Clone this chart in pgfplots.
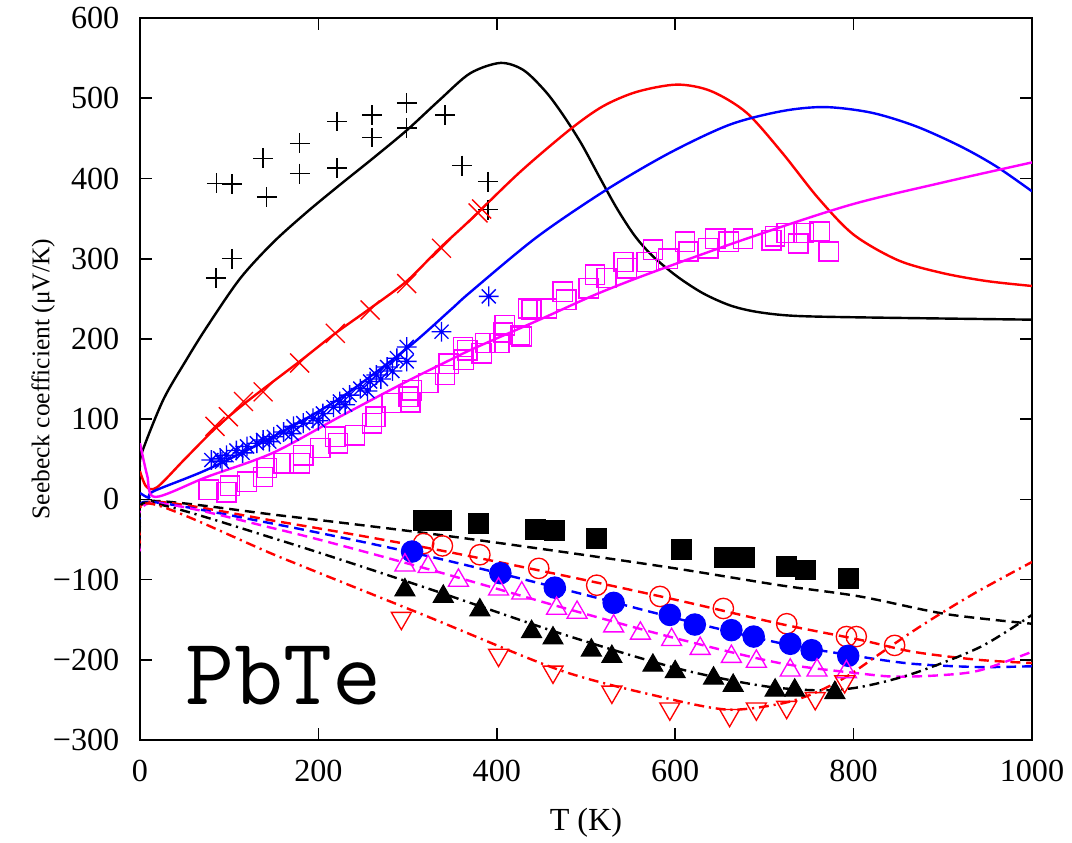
\documentclass[border=0pt]{standalone}
\usepackage{fontspec}
\setmainfont{Liberation Serif}
\usepackage{pgfplots}
\pgfplotsset{compat=1.18}
\definecolor{mag}{RGB}{255,0,255}
\definecolor{rd}{RGB}{255,0,0}
\definecolor{bl}{RGB}{0,0,255}
\pgfdeclareplotmark{pcross}{%
  \pgfpathmoveto{\pgfqpoint{-\pgfplotmarksize}{0pt}}\pgfpathlineto{\pgfqpoint{\pgfplotmarksize}{0pt}}%
  \pgfpathmoveto{\pgfqpoint{0pt}{-\pgfplotmarksize}}\pgfpathlineto{\pgfqpoint{0pt}{\pgfplotmarksize}}%
  \pgfpathmoveto{\pgfqpoint{-.7071\pgfplotmarksize}{-.7071\pgfplotmarksize}}\pgfpathlineto{\pgfqpoint{.7071\pgfplotmarksize}{.7071\pgfplotmarksize}}%
  \pgfpathmoveto{\pgfqpoint{-.7071\pgfplotmarksize}{.7071\pgfplotmarksize}}\pgfpathlineto{\pgfqpoint{.7071\pgfplotmarksize}{-.7071\pgfplotmarksize}}%
  \pgfusepathqstroke}
\begin{document}
\begin{tikzpicture}
\useasboundingbox (-52.24pt,-38.06pt) rectangle (347.73pt,276.12pt);
\begin{axis}[
  scale only axis, width=332.8pt, height=269.4pt,
  xmin=0, xmax=1000, ymin=-300, ymax=600,
  xtick={0,200,400,600,800,1000},
  xticklabels={0,200,400,600,800,1000},
  ytick={-300,-200,-100,0,100,200,300,400,500,600},
  yticklabels={−300,−200,−100,0,100,200,300,400,500,600},
  major tick length=4.4pt,
  tick style={black, line width=0.6pt},
  axis line style={line width=0.8pt},
  tick label style={font=\fontsize{12}{14}\selectfont},
  yticklabel style={xshift=-4.2pt},
  xticklabel style={yshift=-4pt},
  xlabel={T (K)}, ylabel={Seebeck coefficient (μV/K)},
  every axis x label/.style={at={(axis description cs:0.5,-0.1247)},anchor=base,font=\fontsize{12}{14}\selectfont},
  every axis y label/.style={at={(axis description cs:-0.1087,0.5)},anchor=center,rotate=90,font=\fontsize{9.5}{11}\selectfont},
  clip=true,
]
% ---- p-type theory (solid)
\addplot[black, line width=0.9pt, smooth] coordinates {(0,40)(2,58)(26,124)(52,174)(75,215)(112,275)(149,320)(187,358)(224,392)(261,425)(299,460)(336,498)(370,531)(404,544)(430,535)(455,508)(475,478)(495,443)(515,402)(535,362)(555,328)(575,303)(602,278)(631,257)(661,242)(690,234)(730,229)(800,227)(1000,224)};
\addplot[rd, line width=0.9pt, smooth] coordinates {(0,35)(7,16)(19,15)(50,50)(84,88)(120,122)(179,172)(219,207)(258,238)(299,272)(336,313)(370,348)(426,408)(482,461)(519,490)(557,508)(602,517)(640,509)(680,482)(720,432)(760,376)(800,330)(850,298)(900,282)(950,272)(1000,266)};
\addplot[bl, line width=0.9pt, smooth] coordinates {(0,8)(10,2)(15,10)(75,37)(149,78)(224,126)(299,188)(348,236)(370,258)(445,327)(523,386)(594,432)(661,467)(720,484)(768,489)(820,482)(870,465)(920,440)(960,415)(1000,384)};
\addplot[mag, line width=0.9pt, smooth] coordinates {(0,70)(8,30)(17,3)(75,28)(149,58)(224,103)(299,147)(348,174)(374,188)(448,224)(510,255)(572,282)(680,325)(796,367)(900,395)(1000,420)};
% ---- n-type theory
\addplot[black, line width=0.9pt, smooth, dash pattern=on 3.7pt off 2.2pt] coordinates {(0,-30)(10,-2)(157,-20)(320,-42)(471,-65)(600,-86)(717,-107)(807,-121)(904,-143)(1000,-155)};
\addplot[rd, line width=0.9pt, smooth, dash pattern=on 3.7pt off 2.2pt] coordinates {(0,-45)(10,-3)(157,-28)(320,-60)(471,-94)(600,-125)(717,-155)(807,-175)(867,-190)(940,-200)(1000,-204)};
\addplot[bl, line width=0.9pt, smooth, dash pattern=on 3.7pt off 2.2pt] coordinates {(0,-25)(10,-3)(157,-32)(320,-70)(471,-111)(600,-148)(717,-179)(807,-196)(867,-205)(940,-209)(1000,-208)};
\addplot[mag, line width=0.9pt, smooth, dash pattern=on 3.7pt off 2.2pt] coordinates {(0,-65)(10,-5)(157,-38)(320,-86)(471,-134)(600,-173)(717,-204)(807,-217)(848,-221)(900,-219)(942,-213)(1000,-190)};
\addplot[black, line width=0.9pt, smooth, dash pattern=on 3.7pt off 1.8pt on 0.8pt off 1.8pt] coordinates {(0,-35)(10,-4)(157,-51)(320,-110)(471,-167)(600,-210)(695,-232)(760,-238)(807,-234)(867,-217)(942,-184)(1000,-144)};
\addplot[rd, line width=0.9pt, smooth, dash pattern=on 3.7pt off 1.8pt on 0.8pt off 1.8pt] coordinates {(0,-55)(10,-5)(157,-72)(320,-145)(471,-213)(583,-246)(658,-262)(717,-255)(755,-242)(792,-221)(830,-192)(867,-164)(904,-138)(942,-113)(1000,-78)};
% ---- p-type experiment
\addplot[only marks, mark=+, mark size=3.7pt, black, line width=0.5pt] coordinates {(86,394)(103,393)(138,425)(142,377)(179,444)(179,406)(221,471)(221,413)(260,479)(260,451)(299,494)(299,463)(342,479)(361,416)(390,396)(390,361)(85,276)(103,300)};
\addplot[only marks, mark=x, mark size=5pt, rd, line width=0.5pt] coordinates {(84,91)(99,103)(116,122)(138,134)(179,170)(219,207)(258,236)(299,269)(338,313)(379,357)(383,362)};
\addplot[only marks, mark=pcross, mark size=3.7pt, bl, line width=0.5pt] coordinates {(80,49)(90,51)(97,55)(108,61)(120,66)(131,70)(138,74)(150,78)(161,84)(172,91)(183,95)(194,101)(205,107)(217,115)(224,122)(235,130)(247,138)(258,147)(265,155)(277,165)(288,176)(299,190)(299,172)(338,209)(391,253)(92,47)(115,58)(145,72)(170,82)(200,98)(230,118)(255,135)(270,150)(283,160)};
\addplot[only marks, mark=square, mark size=3.6pt, mag, line width=0.55pt] coordinates {(77,12)(97,9)(101,17)(120,22)(138,28)(142,39)(161,45)(179,45)(183,55)(202,64)(222,70)(219,78)(241,80)(260,95)(264,103)(282,120)(301,128)(305,136)(303,121)(323,145)(342,155)(346,169)(363,174)(367,186)(383,182)(387,195)(403,195)(407,208)(426,205)(439,236)(362,190)(409,217)(428,203)(435,238)(456,238)(474,259)(478,249)(503,263)(510,280)(523,276)(542,296)(546,288)(568,296)(575,311)(592,300)(611,321)(615,309)(637,313)(645,325)(660,321)(676,325)(708,323)(712,328)(725,332)(744,332)(738,319)(762,334)(772,309)};
% ---- n-type experiment
\addplot[only marks, mark=square*, mark size=3.7pt, black] coordinates {(318,-26)(338,-26)(379,-30)(443,-38)(465,-39)(512,-49)(607,-63)(655,-72)(678,-72)(725,-84)(746,-88)(794,-99)};
\addplot[only marks, mark=o, mark size=3.8pt, rd, line width=0.5pt] coordinates {(318,-55)(339,-58)(381,-69)(447,-86)(512,-107)(583,-121)(654,-136)(725,-155)(792,-171)(803,-171)(846,-182)};
\addplot[only marks, mark=*, mark size=4pt, bl] coordinates {(305,-65)(404,-92)(465,-110)(531,-129)(594,-144)(622,-156)(663,-163)(688,-171)(729,-180)(753,-188)(794,-195)};
\addplot[only marks, mark=triangle, mark size=4.3pt, mag, line width=0.5pt] coordinates {(297,-82)(323,-84)(357,-101)(402,-112)(428,-117)(467,-136)(490,-141)(531,-158)(561,-167)(596,-175)(628,-186)(663,-196)(691,-202)(729,-213)(759,-213)(792,-215)};
\addplot[only marks, mark=triangle*, mark size=4.3pt, black] coordinates {(297,-113)(340,-121)(381,-138)(439,-165)(463,-173)(506,-188)(529,-196)(575,-207)(600,-215)(643,-223)(665,-232)(712,-238)(734,-238)(779,-241)};
\addplot[only marks, mark=triangle, mark size=4.3pt, rd, line width=0.5pt, mark options={rotate=180}] coordinates {(293,-148)(402,-194)(463,-215)(529,-240)(594,-261)(661,-269)(691,-261)(725,-259)(757,-248)(790,-227)};
\node[anchor=base west, inner sep=0pt, font=\ttfamily\fontsize{35.5}{36}\selectfont] at (axis cs:50,-256) {PbTe};
\end{axis}
\end{tikzpicture}
\end{document}
